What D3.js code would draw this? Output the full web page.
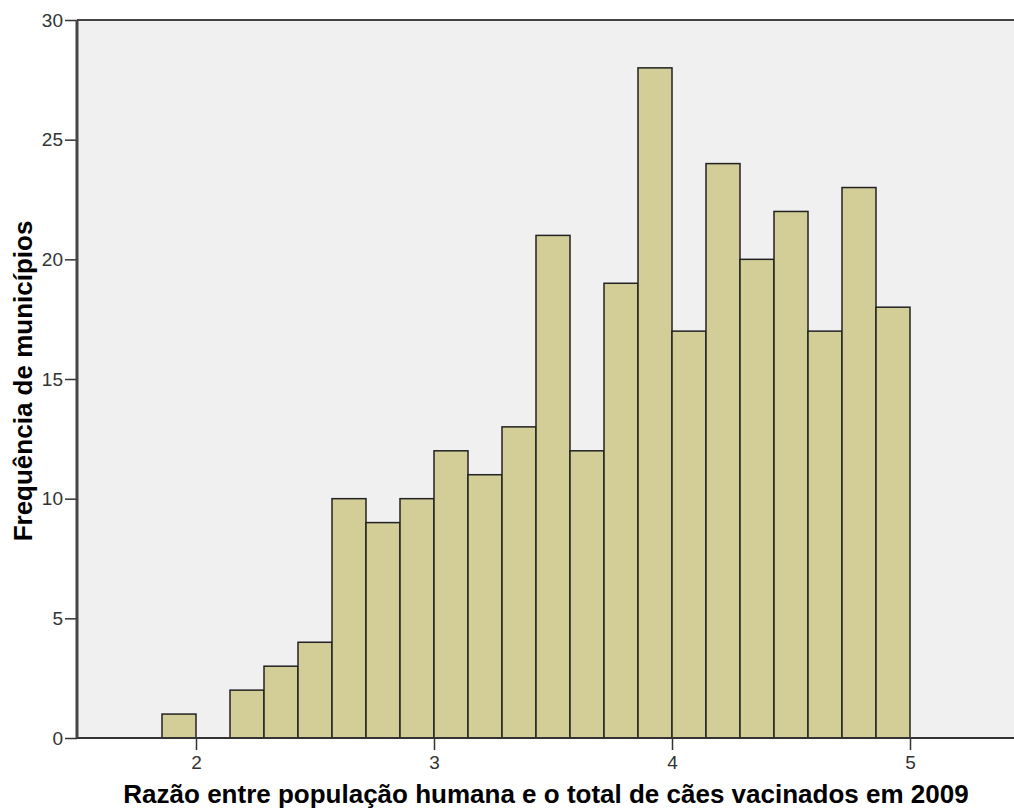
<!DOCTYPE html>
<html>
<head>
<meta charset="utf-8">
<script src="https://cdn.jsdelivr.net/npm/d3@7"></script>
<style>
  body { margin: 0; background: #fff; }
  .axis text { font-family: "Liberation Sans", Arial, sans-serif; font-size: 19px; fill: #333; }
  .title { font-family: "Liberation Sans", Arial, sans-serif; font-weight: bold; font-size: 26px; fill: #000; }
</style>
</head>
<body>
<div id="viz"></div>
<script>
// histogram bins: width 1/7, from 13/7 to 5
const binStarts = [13, 14, 15, 16, 17, 18, 19, 20, 21, 22, 23, 24, 25, 26, 27, 28, 29, 30, 31, 32, 33, 34].map(d => d / 7);
const binWidth = 1 / 7;
const counts = [1, 0, 2, 3, 4, 10, 9, 10, 12, 11, 13, 21, 12, 19, 28, 17, 24, 20, 22, 17, 23, 18];
const xTicks = [2, 3, 4, 5];
const yTicks = [0, 5, 10, 15, 20, 25, 30];

const bins = binStarts.map((x0, i) => ({ x0: x0, x1: x0 + binWidth, n: counts[i] }));

const width = 1014;
const height = 809;
const margin = { left: 77, top: 20, bottom: 71 };

const svg = d3.select("#viz").append("svg")
    .attr("width", width)
    .attr("height", height);

const xScale = d3.scaleLinear()
    .domain([1.5, 5.5])
    .range([margin.left, margin.left + 4 * 238]);

const yScale = d3.scaleLinear()
    .domain([0, 30])
    .range([height - margin.bottom, margin.top]);

// plot background
svg.append("rect")
    .attr("x", margin.left)
    .attr("y", margin.top)
    .attr("width", width - margin.left)
    .attr("height", yScale(0) - margin.top)
    .attr("fill", "#f0f0f0");

svg.selectAll(".bar")
    .data(bins.filter(d => d.n > 0))
    .join("rect")
        .attr("class", "bar")
        .attr("x", d => xScale(d.x0))
        .attr("y", d => yScale(d.n))
        .attr("width", d => xScale(d.x1) - xScale(d.x0))
        .attr("height", d => yScale(0) - yScale(d.n))
        .attr("fill", "#d3ce98")
        .attr("stroke", "#222")
        .attr("stroke-width", 1.5);

// top frame line
svg.append("line")
    .attr("x1", margin.left)
    .attr("x2", width)
    .attr("y1", margin.top)
    .attr("y2", margin.top)
    .attr("stroke", "#444")
    .attr("stroke-width", 2);

const xAxis = svg.append("g")
    .attr("class", "axis")
    .attr("transform", `translate(0,${yScale(0)})`)
    .call(d3.axisBottom(xScale).tickValues(xTicks).tickSize(12).tickPadding(6).tickFormat(d3.format("d")));
xAxis.select(".domain").remove();
xAxis.selectAll(".tick line").attr("stroke", "#333").attr("stroke-width", 1.5);
xAxis.append("line")
    .attr("x1", margin.left).attr("x2", width)
    .attr("stroke", "#333").attr("stroke-width", 2);

const yAxis = svg.append("g")
    .attr("class", "axis")
    .attr("transform", `translate(${margin.left},0)`)
    .call(d3.axisLeft(yScale).tickValues(yTicks).tickSize(12).tickPadding(2));
yAxis.select(".domain").remove();
yAxis.selectAll(".tick line").attr("stroke", "#333").attr("stroke-width", 1.5);
yAxis.append("line")
    .attr("y1", margin.top).attr("y2", yScale(0))
    .attr("stroke", "#444").attr("stroke-width", 3);

svg.append("text")
    .attr("class", "title")
    .attr("text-anchor", "middle")
    .attr("x", 546)
    .attr("y", 803)
    .text("Razão entre população humana e o total de cães vacinados em 2009");

svg.append("text")
    .attr("class", "title")
    .attr("text-anchor", "middle")
    .attr("transform", "translate(32,381) rotate(-90)")
    .text("Frequência de municípios");
</script>
</body>
</html>
